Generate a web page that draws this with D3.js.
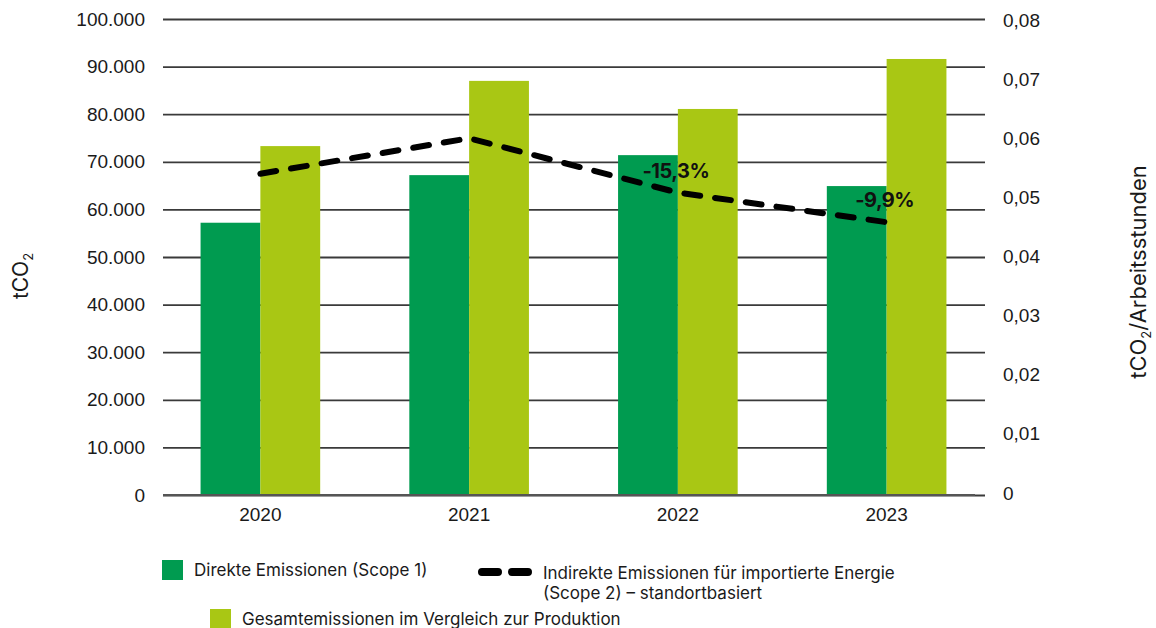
<!DOCTYPE html>
<html lang="de">
<head>
<meta charset="UTF-8">
<title>Emissionen</title>
<script src="https://d3js.org/d3.v7.min.js"></script>
<style>
    body{
        margin: 0;
        padding: 0;
        background: #fff;
    }
    svg{
        font-family: "Inter", "Liberation Sans", sans-serif;
        color: #1a1a1a;
    }
    .tick text{
        font-size: 19px;
        fill: #1a1a1a;
    }
    .legend text{
        font-size: 17px;
        fill: #1a1a1a;
    }
</style>
</head>
<body>
<svg id="canvas" width="1156" height="628"></svg>
<script>

// data
const years = ["2020", "2021", "2022", "2023"]
const scope1 = [57200, 67200, 71400, 64900]          // Direkte Emissionen (Scope 1), tCO2
const total = [73300, 87000, 81100, 91600]           // Gesamtemissionen, tCO2
const perHour = [0.054, 0.060, 0.0508, 0.0458]       // tCO2/Arbeitsstunden
const changeLabels = ["", "", "-15,3%", "-9,9%"]

const seriesNames = ["Direkte Emissionen (Scope 1)",
                     "Gesamtemissionen im Vergleich zur Produktion"]
const lineName = ["Indirekte Emissionen für importierte Energie",
                  "(Scope 2) – standortbasiert"]
const colours = ["#009b50", "#a9c714"]

const de = d3.formatLocale({decimal: ",", thousands: ".", grouping: [3], currency: ["", " €"]})

const canvas = d3.select("#canvas")

const plotLeft = 163, plotRight = 985, plotTop = 19, plotBottom = 495

// scales
let x = d3.scaleBand()
    .domain(years)
    .range([156, 991])
    .paddingInner(0.427)
    .paddingOuter(0.2135)

let yLeft = d3.scaleLinear().domain([0, 100000]).range([plotBottom, plotTop])
let yRight = d3.scaleLinear().domain([0, 0.08]).range([plotBottom - 2, plotTop + 1])

// gridlines
canvas.append("g")
    .attr("transform", "translate(" + plotLeft + ",0)")
    .call(d3.axisLeft(yLeft).ticks(10).tickSize(-(plotRight - plotLeft)).tickFormat(""))
    .call(g => g.select(".domain").remove())
    .call(g => g.selectAll("line").attr("stroke", "#3a3a3a").attr("stroke-width", 1.8))

// left axis labels
canvas.append("g")
    .attr("transform", "translate(" + plotLeft + ",0)")
    .call(d3.axisLeft(yLeft).ticks(10).tickSize(0).tickPadding(18).tickFormat(de.format(",.0f")))
    .call(g => g.select(".domain").remove())

// right axis labels
canvas.append("g")
    .attr("transform", "translate(" + plotRight + ",0)")
    .call(d3.axisRight(yRight).ticks(8).tickSize(0).tickPadding(18)
        .tickFormat(d => d === 0 ? "0" : de.format(",.2f")(d)))
    .call(g => g.select(".domain").remove())

// bars
let bw = x.bandwidth() / 2
let barData = []
years.forEach((yr, i) => {
    barData.push({year: yr, k: 0, value: scope1[i]})
    barData.push({year: yr, k: 1, value: total[i]})
})

canvas.append("g")
    .selectAll("rect")
    .data(barData)
    .enter()
    .append("rect")
    .attr("x", d => x(d.year) + d.k * bw)
    .attr("width", bw)
    .attr("y", d => yLeft(d.value))
    .attr("height", d => yLeft(0) - yLeft(d.value))
    .attr("fill", d => colours[d.k])

// x axis (baseline + year labels)
canvas.append("line")
    .attr("x1", plotLeft).attr("x2", plotRight - 10)
    .attr("y1", plotBottom).attr("y2", plotBottom)
    .attr("stroke", "#555").attr("stroke-width", 2)

canvas.append("g")
    .attr("transform", "translate(0," + plotBottom + ")")
    .call(d3.axisBottom(x).tickSize(0).tickPadding(13))
    .call(g => g.select(".domain").remove())

// dashed intensity line
let lineData = years.map((yr, i) => ({year: yr, value: perHour[i], label: changeLabels[i]}))

let line = d3.line()
    .x(d => x(d.year) + bw)
    .y(d => yRight(d.value))

canvas.append("path")
    .datum(lineData)
    .attr("d", line)
    .attr("fill", "none")
    .attr("stroke", "#000")
    .attr("stroke-width", 6)
    .attr("stroke-linecap", "round")
    .attr("stroke-dasharray", "16,15")

canvas.append("g")
    .selectAll("text")
    .data(lineData.filter(d => d.label !== ""))
    .enter()
    .append("text")
    .attr("x", d => x(d.year) + bw - 2)
    .attr("y", d => yRight(d.value) - 15)
    .attr("text-anchor", "middle")
    .attr("font-size", 20)
    .attr("font-weight", "bold")
    .attr("letter-spacing", "-0.5")
    .attr("fill", "#111")
    .text(d => d.label)

// axis titles
let lt = canvas.append("text")
    .attr("transform", "translate(28,276) rotate(-90)")
    .attr("text-anchor", "middle")
    .attr("font-size", 21)
    .attr("fill", "#1a1a1a")
lt.append("tspan").text("tCO")
lt.append("tspan").text("2").attr("font-size", 13).attr("dy", 5)

let rt = canvas.append("text")
    .attr("transform", "translate(1146,272) rotate(-90)")
    .attr("text-anchor", "middle")
    .attr("font-size", 22)
    .attr("fill", "#1a1a1a")
rt.append("tspan").text("tCO")
rt.append("tspan").text("2").attr("font-size", 13).attr("dy", 5)
rt.append("tspan").text("/Arbeitsstunden").attr("dy", -5)

// legend
let legend = canvas.append("g").attr("class", "legend")

let legendItems = [
    {name: seriesNames[0], colour: colours[0], x: 162, y: 560},
    {name: seriesNames[1], colour: colours[1], x: 210, y: 609}
]

legend.selectAll("g.item")
    .data(legendItems)
    .enter()
    .append("g")
    .attr("class", "item")
    .attr("transform", d => "translate(" + d.x + "," + d.y + ")")
    .each(function (d) {
        let g = d3.select(this)
        g.append("rect").attr("width", 21).attr("height", 20).attr("fill", d.colour)
        g.append("text").attr("x", 32).attr("y", 16).text(d.name)
    })

let lg = legend.append("g").attr("transform", "translate(478,572)")
lg.append("line")
    .attr("x1", 4).attr("x2", 56)
    .attr("stroke", "#000").attr("stroke-width", 8)
    .attr("stroke-linecap", "round")
    .attr("stroke-dasharray", "16,14")
lg.selectAll("text")
    .data(lineName)
    .enter()
    .append("text")
    .attr("x", 65)
    .attr("y", (d, i) => 7 + i * 20)
    .text(d => d)

</script>
</body>
</html>
